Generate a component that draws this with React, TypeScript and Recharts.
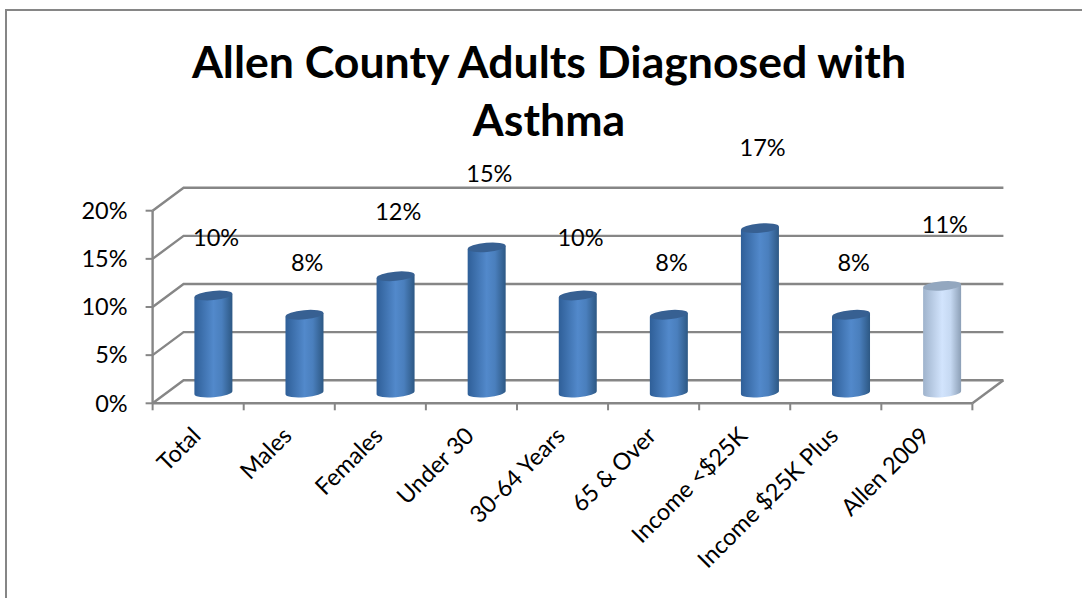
import { Bar, BarChart, CartesianGrid, LabelList, XAxis, YAxis } from "recharts"

const categories = ["Total", "Males", "Females", "Under 30", "30-64 Years", "65 & Over", "Income <$25K", "Income $25K Plus", "Allen 2009"]
const percents = [10, 8, 12, 15, 10, 8, 17, 8, 11]
const percentTicks = [0, 5, 10, 15, 20]
const highlighted = "Allen 2009"

const data = categories.map((name, i) => ({ name, percent: percents[i] }))

const FONT = "Lato, sans-serif"
const AXIS_GREY = "#868686"
const TEXT_SIZE = 23.5
// depth of the fake 3D box
const DEPTH_X = 31
const DEPTH_Y = -23

function BackGridLine(props: any) {
  const { x1, x2, y1 } = props
  const bx1 = x1 + DEPTH_X
  const bx2 = x2 + DEPTH_X
  const by = y1 + DEPTH_Y
  const isFloor = y1 > 400
  return (
    <g fill="none" stroke={AXIS_GREY} strokeWidth={2.4}>
      <polyline points={`${x1},${y1} ${bx1},${by} ${bx2},${by}`} />
      {isFloor && <line x1={x2} y1={y1} x2={bx2} y2={by} />}
    </g>
  )
}

function Cylinder(props: any) {
  const { x, y, width, height, payload } = props
  const gradient = payload.name === highlighted ? "pale" : "blue"
  const top = gradient === "pale" ? "#93a7bf" : "#376092"
  const rx = width / 2
  const ry = 4.6
  const tilt = 1.7
  const left = x + DEPTH_X / 2 - 0.7
  const right = left + width
  const cx = left + rx
  const yTop = y + DEPTH_Y / 2
  const yBottom = y + height + DEPTH_Y / 2 + 0.8
  const body = `M${left},${yTop + tilt} L${left},${yBottom + tilt} A${rx},${ry} -5 0 0 ${right},${yBottom - tilt} L${right},${yTop - tilt} Z`
  return (
    <g>
      <path d={body} fill={`url(#${gradient})`} />
      <ellipse cx={cx} cy={yTop} rx={rx} ry={ry} fill={top} transform={`rotate(-5 ${cx} ${yTop})`} />
    </g>
  )
}

function PercentLabel(props: any) {
  const { x, width, height, value } = props
  // labels sit on their own steeper scale, well above the bars
  const cy = 365.5 - height * 1.33
  return (
    <text x={x + width / 2 + DEPTH_X / 2 + 2} y={cy} dy="0.35em" textAnchor="middle" fontFamily={FONT} fontSize={TEXT_SIZE} fill="#000">
      {`${value}%`}
    </text>
  )
}

function CategoryTick(props: any) {
  const { x, y, index, payload } = props
  const band = 91.05
  const last = index === categories.length - 1
  return (
    <g>
      <line x1={x - band / 2} y1={y - 8} x2={x - band / 2} y2={y - 1} stroke={AXIS_GREY} strokeWidth={2} />
      {last && <line x1={x + band / 2} y1={y - 8} x2={x + band / 2} y2={y - 1} stroke={AXIS_GREY} strokeWidth={2} />}
      <text
        x={x + 4}
        y={y + 26}
        textAnchor="end"
        fontFamily={FONT}
        fontSize={TEXT_SIZE}
        fill="#000"
        transform={`rotate(-45 ${x + 4} ${y + 26})`}
      >
        {payload.value}
      </text>
    </g>
  )
}

export default function App() {
  return (
    <div style={{ position: "absolute", left: 0, top: 0, width: 1082, height: 598, background: "#fff", overflow: "hidden" }}>
      <div style={{ position: "absolute", left: 5, top: 9, width: 1100, height: 620, border: `2px solid ${AXIS_GREY}`, boxSizing: "border-box" }} />
      <div
        style={{
          position: "absolute",
          left: 0,
          top: 32,
          width: 1098,
          textAlign: "center",
          fontFamily: FONT,
          fontWeight: 700,
          fontSize: 44.6,
          lineHeight: "58px",
          color: "#000",
        }}
      >
        Allen County Adults Diagnosed with
        <br />
        Asthma
      </div>
      <div style={{ position: "absolute", left: 0, top: 0 }}>
        <BarChart
          width={1082}
          height={598}
          data={data}
          barSize={38}
          margin={{ top: 210.7, right: 109.6, left: 92.6, bottom: 94.7 }}
        >
          <defs>
            <linearGradient id="blue" x1="0" y1="0" x2="1" y2="0">
              <stop offset="0" stopColor="#2f5f98" />
              <stop offset="0.5" stopColor="#5289cb" />
              <stop offset="0.72" stopColor="#4a7fbd" />
              <stop offset="1" stopColor="#2d5884" />
            </linearGradient>
            <linearGradient id="pale" x1="0" y1="0" x2="1" y2="0">
              <stop offset="0" stopColor="#9fb3cc" />
              <stop offset="0.5" stopColor="#d2e4fd" />
              <stop offset="0.72" stopColor="#c6d9f2" />
              <stop offset="1" stopColor="#8c9fb6" />
            </linearGradient>
          </defs>
          <CartesianGrid vertical={false} horizontal={(p: any) => <BackGridLine key={p.key} {...p} />} />
          <XAxis
            dataKey="name"
            height={100}
            interval={0}
            axisLine={{ stroke: AXIS_GREY, strokeWidth: 2.4 }}
            tickLine={false}
            tick={<CategoryTick />}
          />
          <YAxis
            width={60}
            domain={[0, 20]}
            ticks={percentTicks}
            tickFormatter={(v: number) => `${v}%`}
            axisLine={{ stroke: AXIS_GREY, strokeWidth: 2.4 }}
            tickLine={{ stroke: AXIS_GREY, strokeWidth: 2 }}
            tickSize={7}
            tickMargin={18}
            tick={{ fontFamily: FONT, fontSize: TEXT_SIZE, fill: "#000" }}
          />
          <Bar dataKey="percent" shape={<Cylinder />} isAnimationActive={false}>
            <LabelList dataKey="percent" content={<PercentLabel />} />
          </Bar>
        </BarChart>
      </div>
    </div>
  )
}
